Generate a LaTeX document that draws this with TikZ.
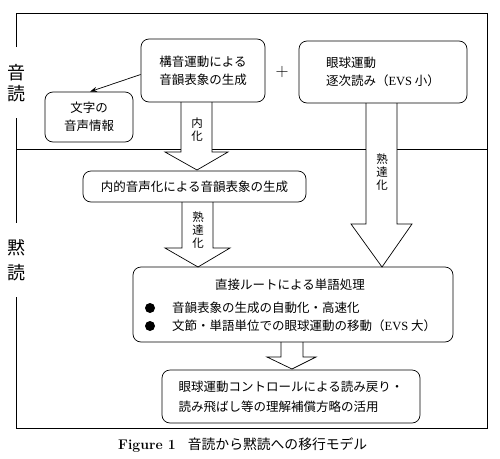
\documentclass[tikz,border=0pt]{standalone}
\usepackage{fontspec}
\newfontfamily\jp{Noto Sans CJK JP}
\newfontfamily\lserif{Liberation Serif}
\usetikzlibrary{arrows.meta}
\begin{document}
\begin{tikzpicture}[x=1pt,y=-1pt,
  box/.style={draw, rounded corners=8pt, line width=0.7pt, inner sep=0pt,
    font=\jp\fontsize{12.5}{18}\selectfont},
  hollow/.style={draw, fill=white, line width=0.7pt, line join=miter},
  frame/.style={line width=0.7pt},
  side/.style={font=\jp\fontsize{18}{21}\selectfont, inner sep=0pt},
  vlab/.style={font=\jp\fontsize{11.5}{13}\selectfont, align=center, inner sep=0pt},
  txt/.style={font=\jp\fontsize{12.5}{18}\selectfont, inner sep=0pt},
  bullet/.style={circle, fill, minimum size=10pt, inner sep=0pt},
]
\useasboundingbox (0,0) rectangle (500,458);
% frame
\draw[frame] (16,47) -- (16,13) -- (487,13) -- (487,428) -- (16,428) -- (16,297);
\draw[frame] (16,118) -- (16,223);
\draw[frame] (16,149) -- (487,149);
\node[side] (on1) at (16,73) {音};
\node[side] (on2) at (16,94) {読};
\node[side] (mo1) at (16,248) {黙};
\node[side] (mo2) at (16,273) {読};
% hollow arrows
\draw[hollow] (181,102) -- (181,152) -- (165,152) -- (197,170) -- (228,152) -- (212,152) -- (212,102);
\draw[hollow] (182,202) -- (182,248) -- (165,248) -- (198,267) -- (230,248) -- (213,248) -- (213,202);
\draw[hollow] (366,103) -- (366,224) -- (351,224) -- (382,267) -- (412,224) -- (397,224) -- (397,103);
\draw[hollow] (281,342) -- (281,357) -- (267,357) -- (292,369) -- (316,357) -- (303,357) -- (303,342);
\node[vlab] (lnaika) at (197,130) {内\\化};
\node[vlab] (ljuku1) at (198,230) {熟\\達\\化};
\node[vlab] (ljuku2) at (382,172.5) {熟\\達\\化};
% boxes
\node[box, minimum width=124pt, minimum height=63pt, align=center] (b1) at (203,70.5) {構音運動による\\音韻表象の生成};
\node[font=\fontsize{18}{18}\selectfont, inner sep=0pt] (plus) at (282,72) {+};
\node[box, minimum width=168pt, minimum height=62pt, align=left] (b2) at (383,72) {眼球運動\\逐次読み（{\lserif EVS}\ 小）};
\node[box, minimum width=88pt, minimum height=50pt, align=center] (moji) at (89,117) {文字の\\音声情報};
\node[box, minimum width=223pt, minimum height=31pt] (naiteki) at (194.5,186.5) {内的音声化による音韻表象の生成};
\node[box, minimum width=320pt, minimum height=75pt] (direct) at (293,304.5) {};
\node[txt] (dtitle) at (290,285) {直接ルートによる単語処理};
\node[bullet] (bul1) at (150,308) {};
\node[bullet] (bul2) at (150,326) {};
\node[txt, anchor=west] (item1) at (172,308) {音韻表象の生成の自動化・高速化};
\node[txt, anchor=west] (item2) at (172,326) {文節・単語単位での眼球運動の移動（{\lserif EVS}\ 大）};
\node[box, minimum width=258pt, minimum height=53pt, align=left, font=\jp\fontsize{12.5}{20}\selectfont] (final) at (291,396.5) {眼球運動コントロールによる読み戻り・\\読み飛ばし等の理解補償方略の活用};
% connector
\draw[line width=0.7pt, -{Stealth[length=7pt,width=5pt]}] ([yshift=-4pt]b1.west) -- ([xshift=1pt]moji.north);
% caption
\node[anchor=west, inner sep=0pt] (cap) at (118,445) {\fontsize{14}{15}\selectfont\textbf{Figure 1}\hspace{12pt}{\jp\fontsize{13.8}{15}\selectfont 音読から黙読への移行モデル}};
\end{tikzpicture}
\end{document}
